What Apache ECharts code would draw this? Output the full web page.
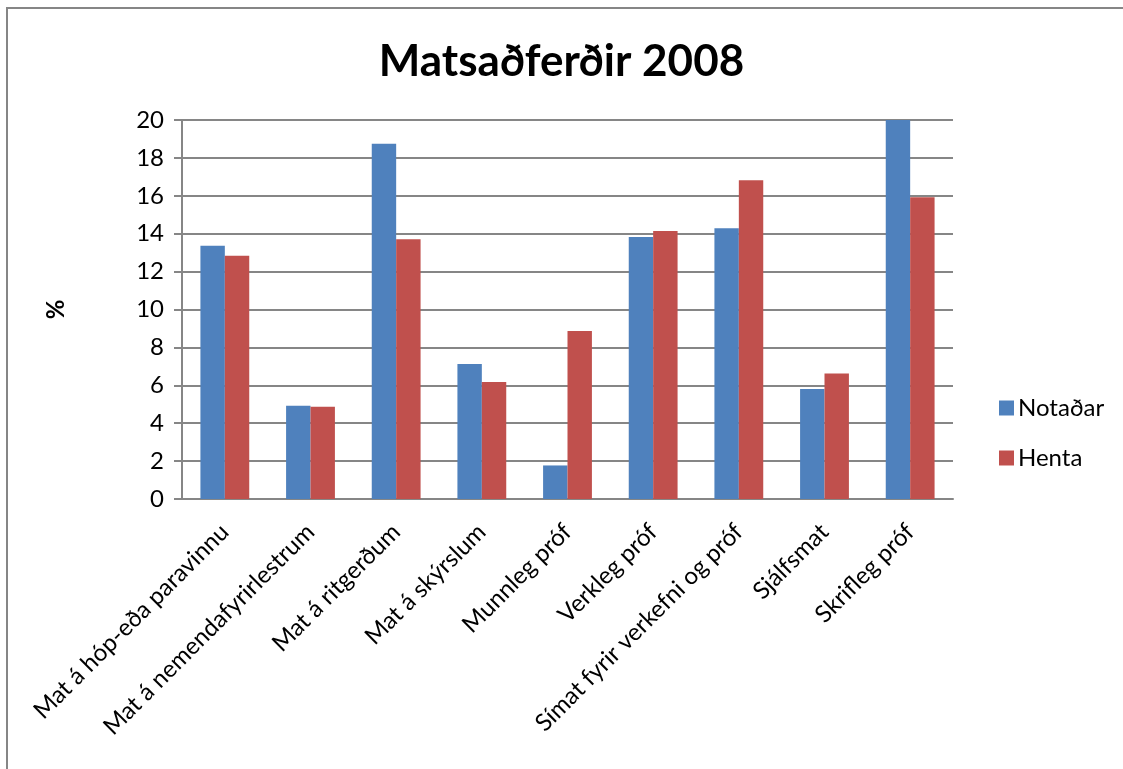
<!DOCTYPE html>
<html>
<head>
<meta charset="utf-8">
<script src="https://cdn.jsdelivr.net/npm/echarts@6/dist/echarts.min.js"></script>
<style>
  html, body { margin: 0; padding: 0; background: #fff; }
  #main { width: 1123px; height: 769px; }
</style>
</head>
<body>
<div id="main"></div>
<script>
// gögn lesin af myndinni
var flokkar = ['Mat á hóp-eða paravinnu', 'Mat á nemendafyrirlestrum', 'Mat á ritgerðum',
  'Mat á skýrslum', 'Munnleg próf', 'Verkleg próf', 'Símat fyrir verkefni og próf',
  'Sjálfsmat', 'Skrifleg próf'];
var notadar = [13.37, 4.92, 18.75, 7.12, 1.77, 13.83, 14.29, 5.8, 20];
var henta = [12.84, 4.87, 13.71, 6.17, 8.87, 14.14, 16.82, 6.62, 15.92];
var yTicks = [0, 2, 4, 6, 8, 10, 12, 14, 16, 18, 20];

var font = 'Lato';
var chart = echarts.init(document.getElementById('main'));

var option = {
  animation: false,
  backgroundColor: '#fff',
  color: ['#4F81BD', '#C0504D'],
  graphic: [{
    type: 'rect',
    shape: { x: 7, y: 8, width: 1200, height: 800 },
    style: { fill: 'none', stroke: '#868686', lineWidth: 2 },
    silent: true
  }],
  title: {
    text: 'Matsaðferðir 2008',
    left: 'center',
    top: 35,
    textStyle: { fontFamily: font, fontSize: 44, fontWeight: 'bold', color: '#000' }
  },
  legend: {
    orient: 'vertical',
    left: 994,
    top: 391,
    itemWidth: 15,
    itemHeight: 15,
    itemGap: 26,
    icon: 'rect',
    data: ['Notaðar', 'Henta'],
    textStyle: { fontFamily: font, fontSize: 24, color: '#000', padding: [0, 0, 0, -1] }
  },
  grid: { left: 182, right: 170, top: 120, bottom: 270 },
  xAxis: {
    type: 'category',
    data: flokkar,
    axisLine: { lineStyle: { color: '#868686', width: 2 } },
    axisTick: { show: false },
    axisLabel: {
      interval: 0,
      rotate: 45,
      margin: 29,
      fontFamily: font,
      fontSize: 24,
      color: '#000'
    }
  },
  yAxis: {
    type: 'value',
    min: yTicks[0],
    max: yTicks[yTicks.length - 1],
    interval: 2,
    name: '%',
    nameLocation: 'middle',
    nameGap: 114,
    nameTextStyle: { fontFamily: font, fontSize: 24, fontWeight: 'bold', color: '#000' },
    axisLine: { show: true, lineStyle: { color: '#868686', width: 2 } },
    axisTick: { show: true, inside: false, length: 8, lineStyle: { color: '#868686', width: 2 } },
    axisLabel: { margin: 18, fontFamily: font, fontSize: 24, color: '#000' },
    splitLine: { lineStyle: { color: '#868686', width: 2 } }
  },
  series: [{
    name: 'Notaðar',
    type: 'bar',
    data: notadar,
    barGap: '0%',
    barCategoryGap: '43%'
  }, {
    name: 'Henta',
    type: 'bar',
    data: henta,
    barGap: '0%',
    barCategoryGap: '43%'
  }]
};

chart.setOption(option);
</script>
</body>
</html>
